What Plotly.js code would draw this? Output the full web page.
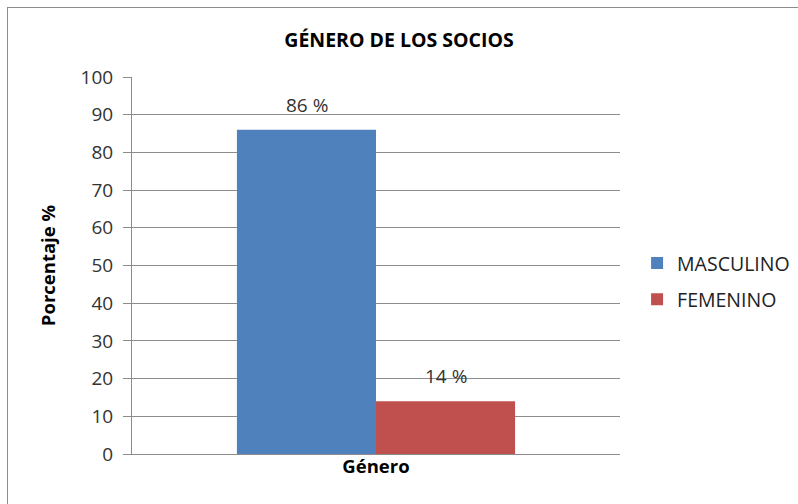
<!DOCTYPE html>
<html><head><meta charset="utf-8">
<script src="https://cdn.plot.ly/plotly-3.0.1.min.js"></script>
<style>
html,body{margin:0;padding:0;background:#fff;}
#frame{position:absolute;left:7px;top:7px;width:800px;height:510px;border:1px solid #8c8c8c;box-sizing:border-box;}
#chart{position:absolute;left:0;top:0;width:798px;height:504px;}
</style></head>
<body>
<div id="frame"></div>
<div id="chart"></div>
<script>
const categories = ['Género'];
const seriesNames = ['MASCULINO', 'FEMENINO'];
const masculino = [86];
const femenino = [14];
const labels = ['86 %', '14 %'];
const colors = ['#4F81BD', '#C0504D'];
const values = [masculino, femenino];

const traces = seriesNames.map((n, i) => ({
  type: 'bar', name: n, x: categories, y: values[i],
  legendgroup: n,
  marker: {color: colors[i]},
  hoverinfo: 'none'
}));

// data labels positioned from the data values, offset per group slot
const annotations = seriesNames.map((n, i) => ({
  x: categories[0], y: values[i][0], xref: 'x', yref: 'y',
  text: labels[i], showarrow: false, yanchor: 'bottom',
  xshift: (i === 0 ? -1 : 1) * 69.5, yshift: 10,
  font: {family: 'Open Sans, sans-serif', size: 19, color: '#333'}
}));

const layout = {
  width: 798, height: 504,
  paper_bgcolor: 'rgba(0,0,0,0)', plot_bgcolor: 'rgba(0,0,0,0)',
  margin: {l: 132, r: 178, t: 77, b: 50, autoexpand: false},
  barmode: 'group', bargap: 0.43, bargroupgap: 0,
  font: {family: 'Open Sans, sans-serif', color: '#222'},
  title: {text: '<b>GÉNERO DE LOS SOCIOS</b>', x: 0.5, xanchor: 'center', y: 0.921, yanchor: 'middle',
          font: {size: 19.5, color: '#000', family: 'Open Sans, sans-serif'}},
  annotations: annotations,
  xaxis: {
    title: {text: '<b>Género</b>', font: {size: 18.5, color: '#000'}, standoff: 6},
    showticklabels: false, showline: true, linecolor: '#8c8c8c', linewidth: 1,
    ticks: '', zeroline: false
  },
  yaxis: {
    range: [0, 100], dtick: 10, tick0: 0,
    showline: true, linecolor: '#8c8c8c', linewidth: 1,
    ticks: 'outside', ticklen: 8, tickcolor: '#8c8c8c',
    gridcolor: '#8c8c8c', gridwidth: 1, zeroline: false,
    ticklabelstandoff: 6,
    tickfont: {size: 19, color: '#333'},
    title: {text: '<b>Porcentaje %</b>', font: {size: 18.5, color: '#000'}, standoff: 20}
  },
  showlegend: true,
  legend: {x: 1.035, xanchor: 'left', y: 0.458, yanchor: 'middle',
           font: {size: 19.5, color: '#222'}, tracegroupgap: 8, itemwidth: 30}
};
Plotly.newPlot('chart', traces, layout, {displayModeBar: false, staticPlot: true});
</script>
</body></html>
